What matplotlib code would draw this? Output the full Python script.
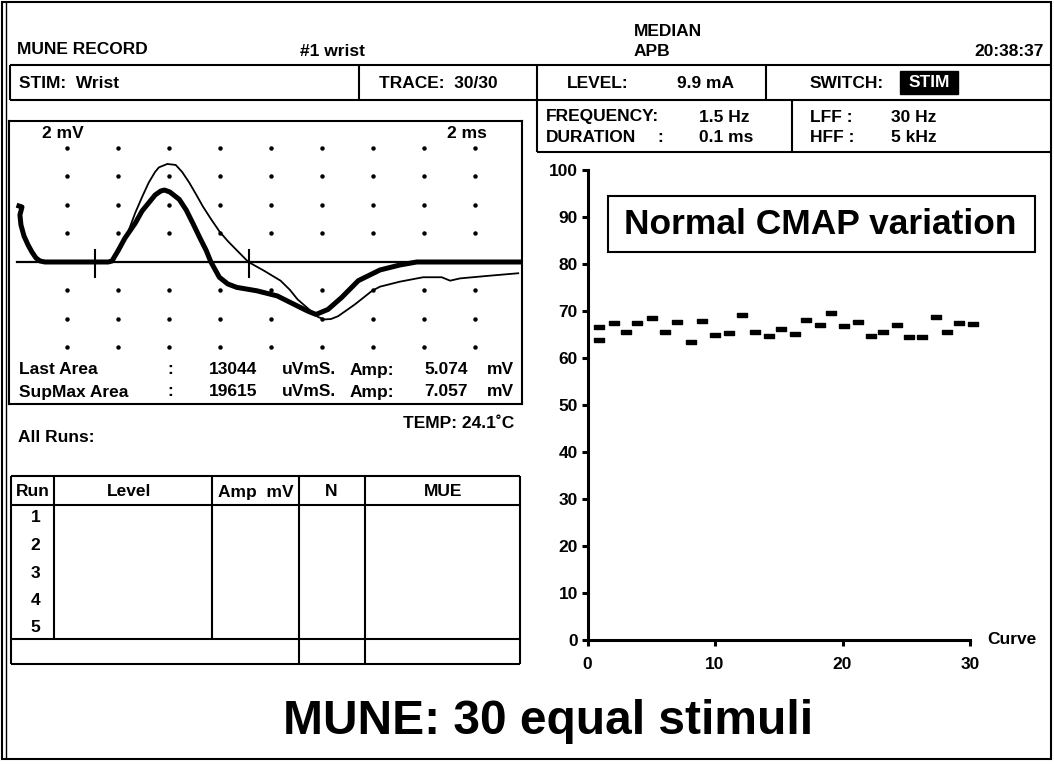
import matplotlib
matplotlib.use("Agg")
import matplotlib.pyplot as plt
from matplotlib.patches import Rectangle
from matplotlib.path import Path

plt.rcParams['font.family'] = ['Liberation Sans', 'DejaVu Sans']
plt.rcParams['font.weight'] = 'bold'

W, H = 1054, 764

# --- waveform traces: time (ms) vs amplitude (mV) ---
avg_t = [0.13, 0.25, 0.17, 0.21, 0.33, 0.49, 0.64, 0.80, 0.96, 1.15, 3.63, 3.78, 4.03, 4.29,
         4.69, 4.96, 5.22, 5.47, 5.69, 5.84, 6.05, 6.42, 6.69, 6.95, 7.23, 7.47, 7.66, 7.99,
         8.32, 8.67, 9.46, 10.26, 10.92, 11.45, 11.78, 12.25, 12.78, 13.44, 14.29, 15.07,
         15.73, 19.9]
avg_mv = [3.93, 3.86, 3.30, 2.60, 1.82, 1.19, 0.70, 0.28, 0.07, 0.0, 0.0, 0.07, 0.83, 1.68,
          2.72, 3.58, 4.15, 4.70, 4.98, 5.05, 4.91, 4.39, 3.65, 2.72, 1.68, 0.83, 0.0, -1.07,
          -1.54, -1.78, -2.02, -2.38, -2.97, -3.44, -3.68, -3.33, -2.50, -1.31, -0.56, -0.21,
          0.0, 0.0]

sup_t = [3.63, 3.86, 4.09, 4.41, 4.69, 4.96, 5.22, 5.47, 5.62, 5.95, 6.28, 6.53, 6.81, 7.07,
         7.34, 7.66, 8.00, 8.32, 8.67, 9.13, 9.73, 10.39, 10.76, 11.05, 11.58, 11.86, 12.11,
         12.37, 12.65, 13.31, 13.98, 14.29, 15.07, 15.98, 16.71, 17.04, 17.43, 18.60, 19.71]
sup_mv = [0.0, 0.20, 0.84, 2.10, 3.44, 4.56, 5.57, 6.32, 6.64, 6.88, 6.81, 6.32, 5.57, 4.77,
          3.91, 3.02, 2.13, 1.47, 0.83, 0.0, -0.60, -1.31, -1.96, -2.61, -3.44, -3.86, -4.03,
          -4.00, -3.80, -2.97, -2.02, -1.73, -1.38, -1.07, -1.07, -1.31, -1.15, -0.96, -0.79]

cursor_t = [3.1, 9.16]
grid_t = [2, 4, 6, 8, 10, 12, 14, 16, 18]
grid_mv = [8, 6, 4, 2, -2, -4, -6]

# --- CMAP amplitude per curve ---
curve_x = [0.94, 0.94, 2.1, 3.0, 3.9, 5.07, 6.08, 7.0, 8.1, 9.0, 10.0, 11.1, 12.1, 13.1, 14.2,
           15.2, 16.3, 17.1, 18.2, 19.1, 20.1, 21.2, 22.2, 23.2, 24.3, 25.2, 26.2, 27.3, 28.2,
           29.1, 30.2]
cmap_amp = [66.7, 63.8, 67.5, 65.6, 67.5, 68.5, 65.6, 67.6, 63.5, 67.8, 64.9, 65.4, 69.2, 65.5,
            64.6, 66.2, 65.2, 68.0, 67.1, 69.6, 66.9, 67.6, 64.6, 65.6, 67.1, 64.5, 64.5, 68.8,
            65.6, 67.5, 67.2]
y_ticks = [0, 10, 20, 30, 40, 50, 60, 70, 80, 90, 100]
x_ticks = [0, 10, 20, 30]

table_cols = ["Run", "Level", "Amp  mV", "N", "MUE"]
table_runs = ["1", "2", "3", "4", "5"]

fig = plt.figure(figsize=(W / 100, H / 100), dpi=100)

# background layer in pixel coordinates for the screen frame and text
bg = fig.add_axes([0, 0, 1, 1])
bg.set_xlim(0, W)
bg.set_ylim(H, 0)
bg.axis("off")


def line(x0, y0, x1, y1, lw=1.5):
    bg.plot([x0, x1], [y0, y1], color="black", lw=lw, solid_capstyle="butt")


def txt(x, y, s, size=12.5, ha="left", **kw):
    bg.text(x, y, s, fontsize=size, ha=ha, va="center", fontweight="bold", zorder=5, **kw)


# outer frame
bg.add_patch(Rectangle((2, 2), 1049, 757, fill=False, lw=1.5, ec="black"))
line(5.5, 2, 5.5, 759, lw=1.0)

# header
txt(17, 50, "MUNE RECORD")
txt(300, 51, "#1 wrist")
txt(634, 31, "MEDIAN")
txt(634, 52, "APB")
txt(1044, 52, "20:38:37", ha="right")

# row 2 box
line(10, 65, 1051, 65)
line(10, 100, 1051, 100)
for xv in [10, 359, 537, 766]:
    line(xv, 65, xv, 100)
txt(19, 83, "STIM:  Wrist")
txt(379, 83, "TRACE:  30/30")
txt(567, 83, "LEVEL:")
txt(677, 83, "9.9 mA")
txt(810, 83, "SWITCH:")
bg.add_patch(Rectangle((900, 71), 58, 23, color="black"))
txt(929, 82.5, "STIM", ha="center", color="white")

# row 3 box
line(537, 152, 1051, 152)
line(537, 100, 537, 152)
line(792, 100, 792, 152)
txt(546, 117, "FREQUENCY:")
txt(699, 117, "1.5 Hz")
txt(546, 138, "DURATION")
txt(657, 138, ":")
txt(699, 138, "0.1 ms")
txt(810, 117, "LFF :")
txt(891, 117, "30 Hz")
txt(810, 138, "HFF :")
txt(891, 138, "5 kHz")

# --- waveform panel ---
px_per_ms, t0_px = 25.5, 15.6
px_per_mv, base_px = 14.25, 262
box_l, box_r, box_t, box_b = 9, 522, 121, 404
wave = fig.add_axes([box_l / W, 1 - box_b / H, (box_r - box_l) / W, (box_b - box_t) / H])
wave.patch.set_alpha(0)
wave.set_xlim((box_l - t0_px) / px_per_ms, (box_r - t0_px) / px_per_ms)
wave.set_ylim(-(box_b - base_px) / px_per_mv, (base_px - box_t) / px_per_mv)
wave.set_xticks([])
wave.set_yticks([])
for sp in wave.spines.values():
    sp.set_linewidth(1.5)
for gy in grid_mv:
    wave.plot(grid_t, [gy] * len(grid_t), ls="none", marker="o", ms=2.2, color="black")
wave.plot([0.05, 19.8], [0, 0], color="black", lw=1.6)
wave.plot(sup_t, sup_mv, color="black", lw=1.3, solid_joinstyle="round")
wave.plot(avg_t, avg_mv, color="black", lw=3.6, solid_joinstyle="round")
for ct in cursor_t:
    wave.plot([ct, ct], [-1.05, 0.85], color="black", lw=1.5)

txt(42, 134, "2 mV")
txt(487, 134, "2 ms", ha="right")
txt(19, 370, "Last Area")
txt(19, 392, "SupMax Area")
txt(167, 370, ":")
txt(167, 392, ":")
txt(257, 370, "13044", ha="right")
txt(257, 392, "19615", ha="right")
txt(282, 370, "uVmS.")
txt(282, 392, "uVmS.")
txt(350, 370, "Amp:")
txt(350, 392, "Amp:")
txt(468, 370, "5.074", ha="right")
txt(468, 392, "7.057", ha="right")
txt(514, 370, "mV", ha="right")
txt(514, 392, "mV", ha="right")

txt(514, 424, "TEMP: 24.1\u02daC", ha="right")
txt(18, 437, "All Runs:")

# --- runs table ---
t_l, t_r, t_top, t_head, t_rows, t_bot = 11, 520, 476, 505, 638.5, 664
line(t_l, t_top, t_r, t_top)
line(t_l, t_head, t_r, t_head)
line(t_l, t_rows, t_r, t_rows)
line(t_l, t_bot, t_r, t_bot)
line(t_l, t_top, t_l, t_bot)
line(t_r, t_top, t_r, t_bot)
line(54, t_top, 54, t_rows)
line(212, t_top, 212, t_rows)
line(299, t_top, 299, t_bot)
line(365, t_top, 365, t_bot)
col_centers = [33, 129, 256, 331, 443]
for cx, name in zip(col_centers, table_cols):
    txt(cx, 492, name, ha="center")
row_y = [518, 545.5, 573, 600.5, 628]
for ry, run in zip(row_y, table_runs):
    txt(35.5, ry, run, ha="center")

# --- CMAP scatter ---
sx0, sx1, sy0, sy1 = 587.5, 970, 640, 170
sc = fig.add_axes([sx0 / W, 1 - sy0 / H, (sx1 - sx0) / W, (sy0 - sy1) / H])
sc.patch.set_alpha(0)
sc.set_xlim(0, 30)
sc.set_ylim(0, 100)
for side in ["top", "right"]:
    sc.spines[side].set_visible(False)
for side in ["left", "bottom"]:
    sc.spines[side].set_linewidth(2.2)
    sc.spines[side].set_capstyle("projecting")
sc.set_yticks(y_ticks)
sc.set_xticks(x_ticks)
sc.tick_params(axis="both", direction="out", length=4, width=2.2, labelsize=12.5)
sc.tick_params(axis="y", pad=3)
sc.tick_params(axis="x", pad=8)
for lab in sc.get_xticklabels() + sc.get_yticklabels():
    lab.set_fontweight("bold")
bar = Path([(-1, -0.38), (1, -0.38), (1, 0.38), (-1, 0.38), (-1, -0.38)])
sc.plot(curve_x, cmap_amp, ls="none", marker=bar, ms=7.6, color="black", clip_on=False)

txt(987, 639, "Curve")
bg.add_patch(Rectangle((607.5, 196.3), 427, 56, fill=False, lw=1.5, ec="black"))
txt(820, 224, "Normal CMAP variation", 25.5, ha="center")

txt(548.5, 721, "MUNE: 30 equal stimuli", 34.5, ha="center")

fig.savefig("out.png", dpi=100)
